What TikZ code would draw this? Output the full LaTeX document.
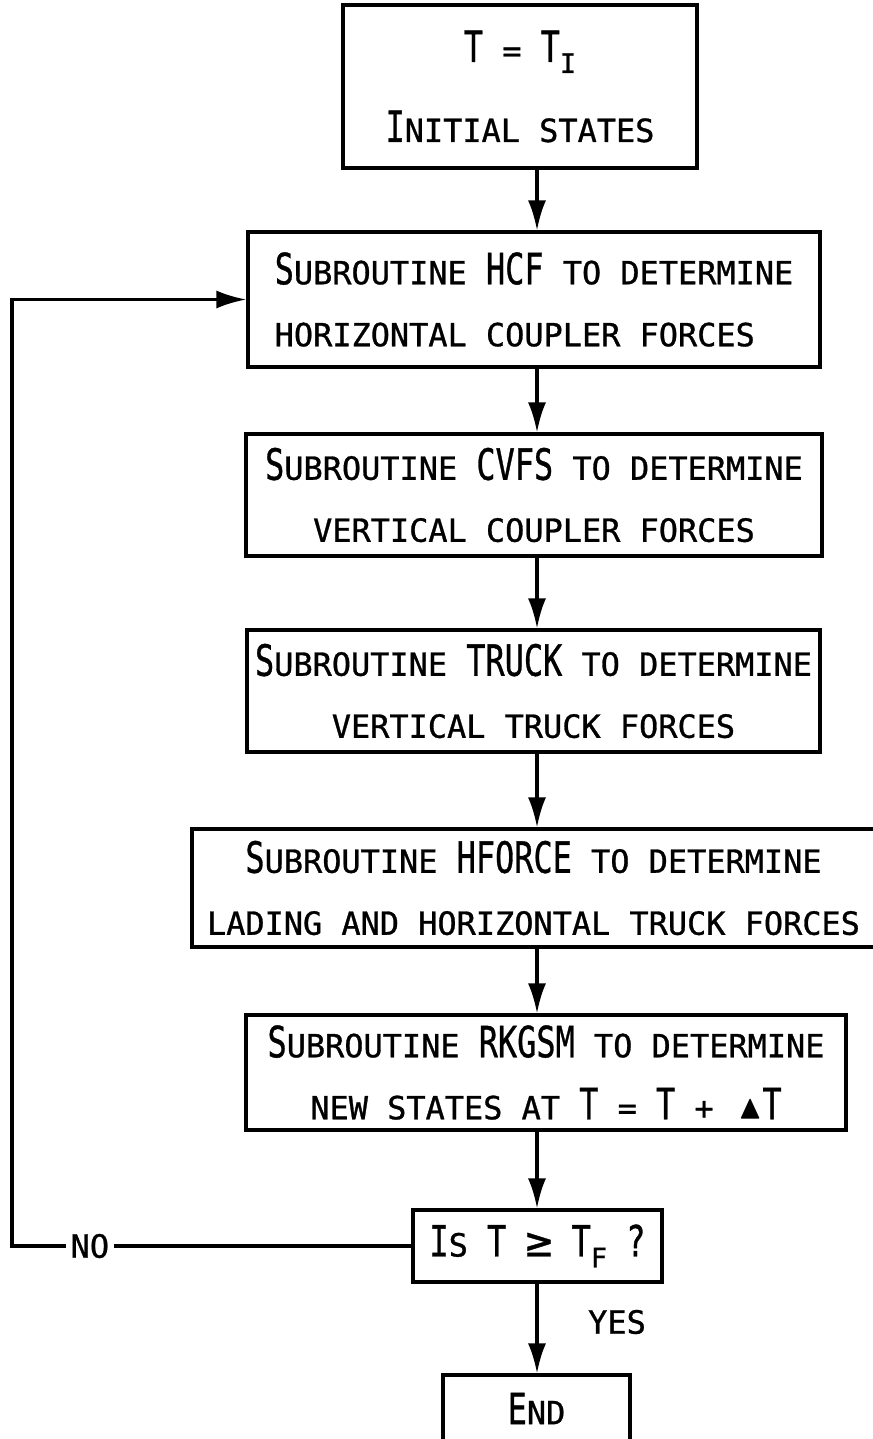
\documentclass[tikz,border=0pt]{standalone}
\usepackage{fontspec}
\setmainfont{DejaVu Sans Mono}[BoldFont=DejaVu Sans Mono, BoldFeatures={FakeBold=0.9}]
\usepackage{amssymb}
\usepackage{graphicx}
\usetikzlibrary{arrows.meta}

% tall lettering for the capitals, and a lowered index
\newcommand{\bigch}[1]{\scalebox{1}[1.35]{#1}}
\newcommand{\lowix}[1]{\raisebox{-11pt}{\fontsize{27}{27}\selectfont #1}}

\begin{document}
\begin{tikzpicture}[x=1pt, y=-1pt,
    box/.style={draw, line width=3.2pt, inner sep=0pt, align=center,
        font=\fontsize{31.9}{62}\selectfont\bfseries},
    flow/.style={line width=3.2pt, -{Latex[length=30pt, width=18pt]}},
    lbl/.style={font=\fontsize{32}{32}\selectfont\bfseries, inner sep=5pt}]
    \useasboundingbox (0,0) rectangle (872,1439);

    % Start
    \node[box, minimum width=354pt, minimum height=163pt] (init) at (520,86.5)
        {\bigch{T} = \bigch{T}\lowix{I}\\[18pt] \bigch{I}NITIAL STATES};

    % Subroutines
    \node[box, align=left, minimum width=572pt, minimum height=135pt] (hcf) at (534,299.5)
        {\bigch{S}UBROUTINE \bigch{HCF} TO DETERMINE\\ HORIZONTAL COUPLER FORCES};
    \node[box, minimum width=576pt, minimum height=122pt] (cvfs) at (534,495)
        {\bigch{S}UBROUTINE \bigch{CVFS} TO DETERMINE\\ VERTICAL COUPLER FORCES};
    \node[box, minimum width=573pt, minimum height=122pt] (truck) at (533.5,691)
        {\bigch{S}UBROUTINE \bigch{TRUCK} TO DETERMINE\\ VERTICAL TRUCK FORCES};
    \node[box, minimum width=683pt, minimum height=118pt] (hforce) at (533.5,888)
        {\bigch{S}UBROUTINE \bigch{HFORCE} TO DETERMINE\\ LADING AND HORIZONTAL TRUCK FORCES};
    \node[box, minimum width=600pt, minimum height=115pt] (rkgsm) at (546,1072.5)
        {\bigch{S}UBROUTINE \bigch{RKGSM} TO DETERMINE\\
         NEW STATES AT \bigch{T} = \bigch{T} + \,\raisebox{1pt}{\scalebox{1.05}{$\blacktriangle$}}\bigch{T}};

    % Test and end
    \node[box, minimum width=249pt, minimum height=72pt] (test) at (537.5,1246)
        {\bigch{I}S \bigch{T} \scalebox{1.4}{≥} \bigch{T}\lowix{F} \bigch{?}};
    \node[box, minimum width=187pt, minimum height=67pt] (stop) at (536.5,1408.5)
        {\bigch{E}ND};

    % Connectors
    \coordinate (spine) at (537,0);
    \coordinate (back) at (12,0);
    \draw[flow] (init.south -| spine) -- (hcf.north -| spine);
    \draw[flow] (hcf.south -| spine) -- (cvfs.north -| spine);
    \draw[flow] (cvfs.south -| spine) -- (truck.north -| spine);
    \draw[flow] (truck.south -| spine) -- (hforce.north -| spine);
    \draw[flow] (hforce.south -| spine) -- (rkgsm.north -| spine);
    \draw[flow] (rkgsm.south -| spine) -- (test.north -| spine);
    \draw[flow] (test.south -| spine) -- (stop.north -| spine);
    \draw[flow] (test.west) -- node[lbl, fill=white, pos=0.805] (no) {NO}
        (test.west -| back) |- (hcf.west);
    \node[lbl] (yes) at (617,1322) {YES};
\end{tikzpicture}
\end{document}
